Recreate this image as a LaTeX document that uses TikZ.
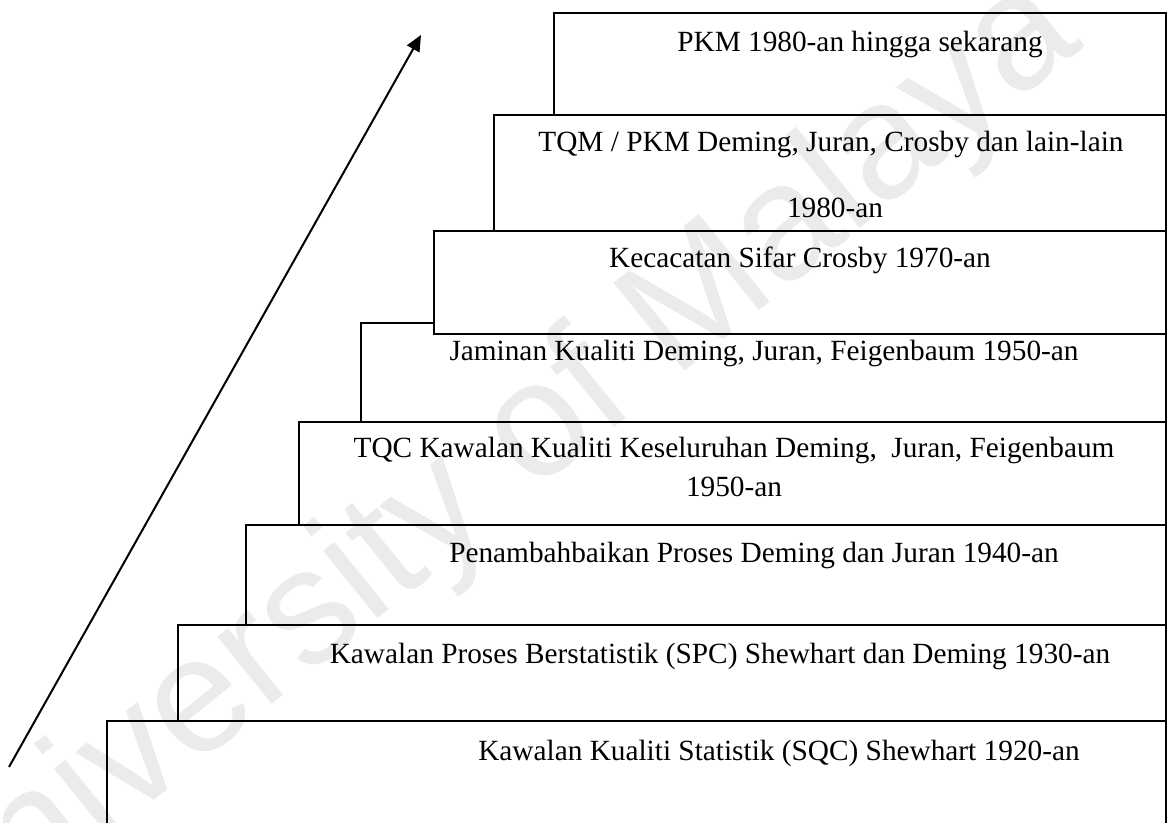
\documentclass[tikz,border=0pt]{standalone}
\usepackage{fontspec}
\setmainfont{Liberation Serif}
\newfontfamily\wmfont{Liberation Sans}
\usetikzlibrary{arrows.meta,fit}
\begin{document}
\begin{tikzpicture}[x=0.5pt,y=-0.5pt,
  stepbox/.style={draw=black, line width=0.65pt, fill=white, inner sep=0pt},
  lbl/.style={anchor=base, inner sep=0pt, font=\fontsize{14.65pt}{17pt}\selectfont},
  rise/.style={line width=1pt, -{Triangle[length=8pt,width=7pt]}},
  wm/.style={rotate=39, inner sep=0pt, text=black, text opacity=0.08,
    font=\wmfont\fontsize{82pt}{82pt}\selectfont}]
\useasboundingbox (0,0) rectangle (1168,823);
\clip (0,0) rectangle (1168,823);

% staircase of eras, drawn from the lowest step upwards
\node[stepbox, fit={(107,721) (1166,840)}] (sqc) {};
\node[stepbox, fit={(178,625) (1166,721)}] (spc) {};
\node[stepbox, fit={(246,525) (1166,625)}] (pen) {};
\node[stepbox, fit={(299,422) (1166,525)}] (tqc) {};
\node[stepbox, fit={(361,323) (1166,422)}] (jam) {};
\node[stepbox, fit={(434,231) (1166,334)}] (kec) {};
\node[stepbox, fit={(494,115) (1166,231)}] (tqm) {};
\node[stepbox, fit={(554,13) (1166,115)}] (pkm) {};

% step labels
\node[lbl] (pkmt) at (860,52) {PKM 1980-an hingga sekarang};
\node[lbl] (tqmt) at (831,152) {TQM / PKM Deming, Juran, Crosby dan lain-lain};
\node[lbl] (tqmy) at (835,218) {1980-an};
\node[lbl] (kect) at (800,268) {Kecacatan Sifar Crosby 1970-an};
\node[lbl] (jamt) at (764,361) {Jaminan Kualiti Deming, Juran, Feigenbaum 1950-an};
\node[lbl] (tqct) at (734,458) {TQC Kawalan Kualiti Keseluruhan Deming,\ \ Juran, Feigenbaum};
\node[lbl] (tqcy) at (734,497) {1950-an};
\node[lbl] (pent) at (754,563) {Penambahbaikan Proses Deming dan Juran 1940-an};
\node[lbl] (spct) at (720,663) {Kawalan Proses Berstatistik (SPC) Shewhart dan Deming 1930-an};
\node[lbl] (sqct) at (779,760) {Kawalan Kualiti Statistik (SQC) Shewhart 1920-an};

% rising arrow
\coordinate (base) at (9,767);
\coordinate (tip) at (421,35);
\draw[rise] (base) -- (tip);

% faint watermark
\node[wm] (mark) at (485,478) {University of Malaya};
\end{tikzpicture}
\end{document}
